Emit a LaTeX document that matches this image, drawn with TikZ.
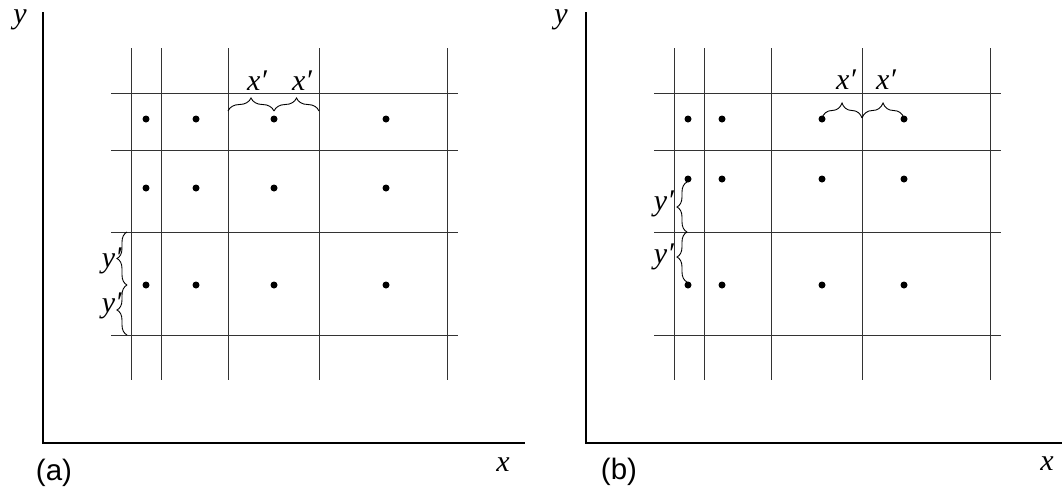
\documentclass[tikz,border=0pt]{standalone}
\usepackage{fontspec}
\setmainfont{Liberation Serif}
\newfontfamily\labsans{Liberation Sans}
\usetikzlibrary{decorations.pathreplacing}
\begin{document}
\begin{tikzpicture}[x=1pt,y=-1pt,
  axis/.style={line width=2.8pt},
  gridline/.style={line width=1pt, black!80},
  dotnode/.style={circle, fill=black, inner sep=0pt, minimum size=7pt},
  bracestyle/.style={decorate, decoration={brace, amplitude=#1}, line width=0.9pt},
  lab/.style={font=\fontsize{30}{30}\selectfont\itshape, inner sep=0pt},
  panellab/.style={font=\labsans\fontsize{29.5}{30}\selectfont, inner sep=0pt}]
\useasboundingbox (0,0) rectangle (1062,491);
% ---------- panel (a)
\coordinate (aytop) at (43,12);
\coordinate (aorig) at (43,443);
\coordinate (axend) at (525,443);
\draw[axis] (aytop) -- (aorig) -- (axend);
\foreach \gx in {131,161,228,319,447} \draw[gridline] (\gx,48) -- (\gx,380);
\foreach \gy in {93,150,232,335} \draw[gridline] (111,\gy) -- (458,\gy);
\foreach \dx [count=\i] in {146,196,274,386}
  \foreach \dy [count=\j] in {119,188,285}
    \node[dotnode] (a\i\j) at (\dx,\dy) {};
\coordinate (abt1) at (228,111);
\coordinate (abt2) at (274,111);
\coordinate (abt3) at (319,111);
\draw[bracestyle=13] (abt1) -- (abt2);
\draw[bracestyle=13] (abt2) -- (abt3);
\coordinate (abl1) at (127,335);
\coordinate (abl2) at (127,285);
\coordinate (abl3) at (127,232);
\draw[bracestyle=10] (abl1) -- (abl2);
\draw[bracestyle=10] (abl2) -- (abl3);
\node[lab, anchor=base] (axp1) at (257,90) {x′};
\node[lab, anchor=base] (axp2) at (302,90) {x′};
\node[lab, anchor=east] (ayp1) at (122,261) {y′};
\node[lab, anchor=east] (ayp2) at (122,306) {y′};
\node[lab] (aylab) at (20,20) {y};
\node[lab] (axlab) at (503,465) {x};
\node[panellab] (alab) at (54,473) {(a)};
% ---------- panel (b)
\coordinate (bytop) at (586,12);
\coordinate (borig) at (586,443);
\coordinate (bxend) at (1062,443);
\draw[axis] (bytop) -- (borig) -- (bxend);
\foreach \gx in {674,704,771,862,990} \draw[gridline] (\gx,48) -- (\gx,380);
\foreach \gy in {93,150,232,335} \draw[gridline] (654,\gy) -- (1001,\gy);
\foreach \dx [count=\i] in {688,722,822,904}
  \foreach \dy [count=\j] in {119,179,285}
    \node[dotnode] (b\i\j) at (\dx,\dy) {};
\coordinate (bbt1) at (822,118);
\coordinate (bbt2) at (862,118);
\coordinate (bbt3) at (904,118);
\draw[bracestyle=15] (bbt1) -- (bbt2);
\draw[bracestyle=15] (bbt2) -- (bbt3);
\coordinate (bbl1) at (687,282);
\coordinate (bbl2) at (687,232);
\coordinate (bbl3) at (687,182);
\draw[bracestyle=10] (bbl1) -- (bbl2);
\draw[bracestyle=10] (bbl2) -- (bbl3);
\node[lab, anchor=base] (bxp1) at (846,89) {x′};
\node[lab, anchor=base] (bxp2) at (886,89) {x′};
\node[lab, anchor=east] (byp1) at (674,204) {y′};
\node[lab, anchor=east] (byp2) at (674,257) {y′};
\node[lab] (bylab) at (561,20) {y};
\node[lab] (bxlab) at (1047,464) {x};
\node[panellab] (blab) at (619,472) {(b)};
\end{tikzpicture}
\end{document}
